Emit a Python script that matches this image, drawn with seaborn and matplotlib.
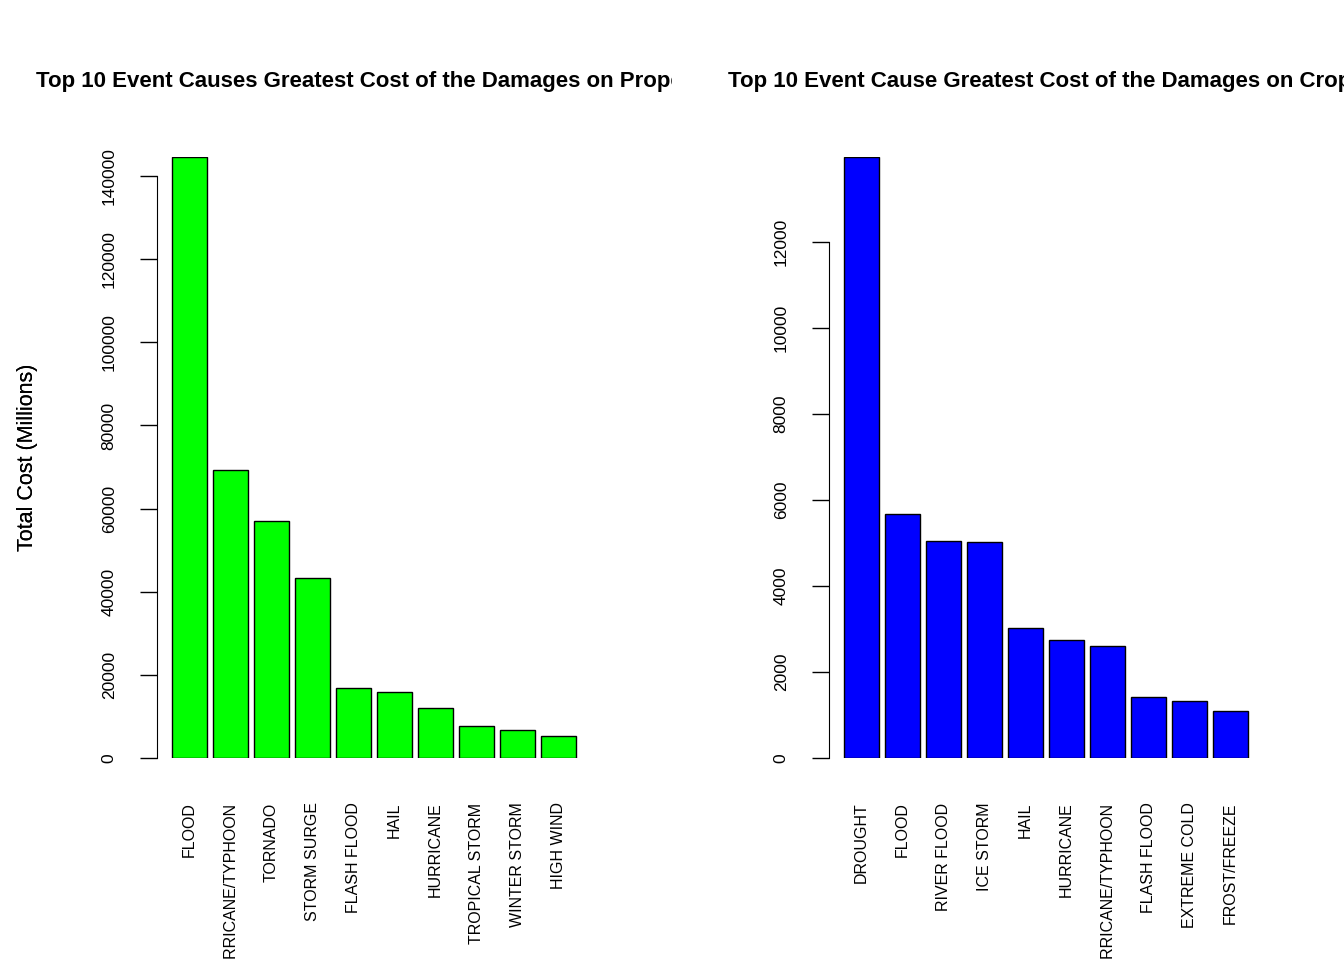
import matplotlib
matplotlib.use("Agg")
import matplotlib.pyplot as plt
import seaborn as sns
from matplotlib.transforms import Bbox

sns.set_style("white")
plt.rcParams['font.family'] = ['Liberation Sans', 'DejaVu Sans']
plt.rcParams['text.color'] = 'black'
plt.rcParams['axes.labelcolor'] = 'black'
plt.rcParams['xtick.color'] = 'black'
plt.rcParams['ytick.color'] = 'black'

prop_events = ["FLOOD", "HURRICANE/TYPHOON", "TORNADO", "STORM SURGE", "FLASH FLOOD",
               "HAIL", "HURRICANE", "TROPICAL STORM", "WINTER STORM", "HIGH WIND"]
prop_cost = [144600, 69300, 57000, 43300, 16800, 15900, 12000, 7700, 6700, 5300]
crop_events = ["DROUGHT", "FLOOD", "RIVER FLOOD", "ICE STORM", "HAIL", "HURRICANE",
               "HURRICANE/TYPHOON", "FLASH FLOOD", "EXTREME COLD", "FROST/FREEZE"]
crop_cost = [13970, 5670, 5050, 5020, 3020, 2740, 2610, 1420, 1330, 1090]

W, H = 1344, 960
fig = plt.figure(figsize=(13.44, 9.6), dpi=100)

panels = [
    (157, prop_events, prop_cost, "#00ff00", 140000, 20000,
     "Top 10 Event Causes Greatest Cost of the Damages on Property", 0, 672),
    (829, crop_events, crop_cost, "#0000ff", 12000, 2000,
     "Top 10 Event Cause Greatest Cost of the Damages on Crops", 672, 1344),
]
for (x0, cats, vals, col, ymaxtick, step, title, cl, cr) in panels:
    ax = fig.add_axes([x0 / W, (H - 758) / H, 434 / W, 601 / H])
    sns.barplot(x=cats, y=vals, color=col, saturation=1, width=0.85,
                edgecolor="black", linewidth=1, ax=ax)
    ax.set_xlim(-0.79, 9.79)
    ax.set_ylim(0, max(vals))
    for s in ["top", "right", "bottom"]:
        ax.spines[s].set_visible(False)
    ax.spines["left"].set_bounds(0, ymaxtick)
    ax.spines["left"].set_color("black")
    ax.set_yticks(range(0, ymaxtick + 1, step))
    ax.tick_params(axis="y", direction="out", length=12, width=1, color="black",
                   labelsize=12.5, pad=17, labelrotation=90, left=True)
    for t in ax.get_yticklabels():
        t.set_va("center")
    ax.tick_params(axis="x", length=0, labelsize=11.5, pad=32, labelrotation=90)
    for t in ax.get_xticklabels():
        t.set_va("top")
    ax.set_ylabel("Total Cost (Millions)", fontsize=15.5)
    ax.yaxis.set_label_coords((38 - x0) / 434, 0.5)
    ax.set_xlabel("")
    tx = fig.text((x0 + 217) / W, 1 - 81 / H, title, ha="center", va="center",
                  fontsize=16, fontweight="bold")
    tx.set_clip_box(Bbox([[cl, 0], [cr, H]]))
    tx.set_clip_on(True)

fig.savefig("out.png", dpi=100)
